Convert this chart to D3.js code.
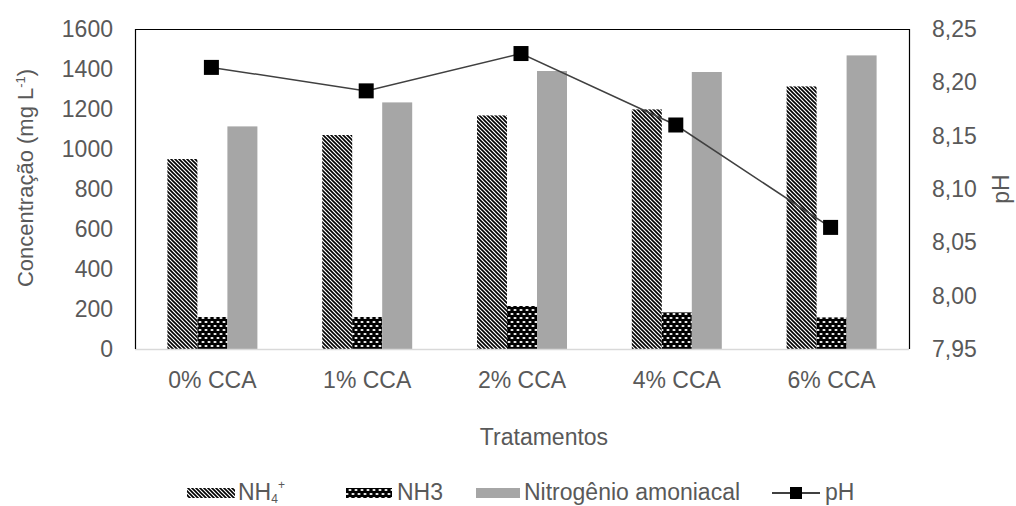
<!DOCTYPE html>
<html><head><meta charset="utf-8">
<script src="https://cdn.jsdelivr.net/npm/d3@7"></script>
<style>html,body{margin:0;padding:0;background:#fff;} text{font-family:"Liberation Sans",Arial,sans-serif;}</style>
</head><body>
<svg id="c" width="1016" height="506"></svg>
<script>
const categories = ["0% CCA","1% CCA","2% CCA","4% CCA","6% CCA"];
const nh4 = [950, 1070, 1168, 1198, 1313];
const nh3 = [160, 160, 215, 183, 158];
const nitAm = [1113, 1233, 1390, 1385, 1468];
const ph = [8.214, 8.192, 8.227, 8.160, 8.064];
const leftTicks = [0,200,400,600,800,1000,1200,1400,1600];
const rightTicks = [7.95,8.00,8.05,8.10,8.15,8.20,8.25];
const seriesNames = ["NH4","NH3","Nitrogênio amoniacal"];

const svg = d3.select("#c");
const L=135, R=909, T=29, B=349;
const txt="#595959";
const FS=23;

const defs = svg.append("defs");
const p1 = defs.append("pattern").attr("id","diag").attr("patternUnits","userSpaceOnUse").attr("width",4).attr("height",4);
p1.append("rect").attr("width",4).attr("height",4).attr("fill","#fff");
p1.append("path").attr("d","M0,0L4,4M-1,3L1,5M3,-1L5,1").attr("stroke","#000").attr("stroke-width",1.6);
const p2 = defs.append("pattern").attr("id","dots").attr("patternUnits","userSpaceOnUse").attr("width",6).attr("height",8);
p2.append("rect").attr("width",6).attr("height",8).attr("fill","#000");
p2.append("ellipse").attr("cx",2).attr("cy",2).attr("rx",1.6).attr("ry",0.9).attr("fill","#fff");
p2.append("ellipse").attr("cx",5).attr("cy",6).attr("rx",1.6).attr("ry",0.9).attr("fill","#fff");
p2.append("ellipse").attr("cx",-1).attr("cy",6).attr("rx",1.6).attr("ry",0.9).attr("fill","#fff");
const fills = ["url(#diag)","url(#dots)","#a6a6a6"];

const x = d3.scaleBand().domain(categories).range([L,R]);
const xs = d3.scaleBand().domain(seriesNames).range([0,90]);
const y = d3.scaleLinear().domain([0,1600]).range([B,T]);
const y2 = d3.scaleLinear().domain([7.95,8.25]).range([B,T]);

// bars
const data = [nh4, nh3, nitAm];
data.forEach((arr,si)=>{
  svg.append("g").selectAll("rect").data(arr).join("rect")
    .attr("x",(d,i)=>x(categories[i]) + (x.bandwidth()-90)/2 + xs(seriesNames[si]))
    .attr("y",d=>y(d))
    .attr("width",xs.bandwidth())
    .attr("height",d=>B-y(d))
    .attr("fill",fills[si]);
});

// frame
svg.append("line").attr("x1",L).attr("x2",R).attr("y1",B+0.5).attr("y2",B+0.5).attr("stroke","#d9d9d9").attr("stroke-width",1.5);
svg.append("path").attr("d",`M${L+0.5},${B}V${T+0.5}H${R+0.5}V${B}`).attr("fill","none").attr("stroke","#000").attr("stroke-width",1.2);

function styleAxis(g){
  g.select(".domain").remove();
  g.selectAll("text").attr("font-size",FS).attr("fill",txt).attr("font-family","Liberation Sans, Arial, sans-serif");
}
// axes
svg.append("g").attr("transform",`translate(${L},0)`)
  .call(d3.axisLeft(y).tickValues(leftTicks).tickSize(0).tickPadding(22).tickFormat(d3.format("d"))).call(styleAxis);
svg.append("g").attr("transform",`translate(${R},0)`)
  .call(d3.axisRight(y2).tickValues(rightTicks).tickSize(0).tickPadding(23).tickFormat(d=>d3.format(".2f")(d).replace(".",","))).call(styleAxis);
svg.append("g").attr("transform",`translate(0,${B})`)
  .call(d3.axisBottom(x).tickSize(0).tickPadding(23)).call(styleAxis);

// pH line
const cx = (i)=>x(categories[i])+x.bandwidth()/2 - 1;
const line = d3.line().x((d,i)=>cx(i)).y(d=>y2(d));
svg.append("path").datum(ph).attr("d",line).attr("fill","none").attr("stroke","#404040").attr("stroke-width",1.5);
svg.append("g").selectAll("rect").data(ph).join("rect")
  .attr("x",(d,i)=>cx(i) - 7.5)
  .attr("y",d=>y2(d)-7.5).attr("width",15).attr("height",15).attr("fill","#000");

// titles
svg.append("text").attr("transform","translate(33,178) rotate(-90)").attr("text-anchor","middle")
  .attr("font-size",22).attr("fill",txt)
  .html('Concentração (mg L<tspan dy="-8" font-size="13">-1</tspan><tspan dy="8">)</tspan>');
svg.append("text").attr("transform","translate(1009,189) rotate(-90)").attr("text-anchor","middle")
  .attr("font-size",FS).attr("fill",txt).text("pH");
svg.append("text").attr("x",544).attr("y",445).attr("text-anchor","middle")
  .attr("font-size",FS).attr("fill",txt).text("Tratamentos");

// legend
const lg = svg.append("g");
const sy = 488, by = 500;
lg.append("rect").attr("x",187).attr("y",sy).attr("width",48).attr("height",10).attr("fill","url(#diag)");
lg.append("text").attr("x",238).attr("y",by).attr("font-size",FS).attr("fill",txt)
  .html('NH<tspan dy="3" font-size="12">4</tspan><tspan dy="-14" font-size="12">+</tspan>');
lg.append("rect").attr("x",346).attr("y",sy).attr("width",46).attr("height",10).attr("fill","url(#dots)");
lg.append("text").attr("x",397).attr("y",by).attr("font-size",FS).attr("fill",txt).text("NH3");
lg.append("rect").attr("x",476).attr("y",sy).attr("width",44).attr("height",10).attr("fill","#a6a6a6");
lg.append("text").attr("x",524).attr("y",by).attr("font-size",FS).attr("fill",txt).text("Nitrogênio amoniacal");
lg.append("line").attr("x1",772).attr("x2",820).attr("y1",sy+5).attr("y2",sy+5).attr("stroke","#000").attr("stroke-width",1.5);
lg.append("rect").attr("x",790).attr("y",sy-1).attr("width",12).attr("height",12).attr("fill","#000");
lg.append("text").attr("x",825).attr("y",by).attr("font-size",FS).attr("fill",txt).text("pH");
</script>
</body></html>
